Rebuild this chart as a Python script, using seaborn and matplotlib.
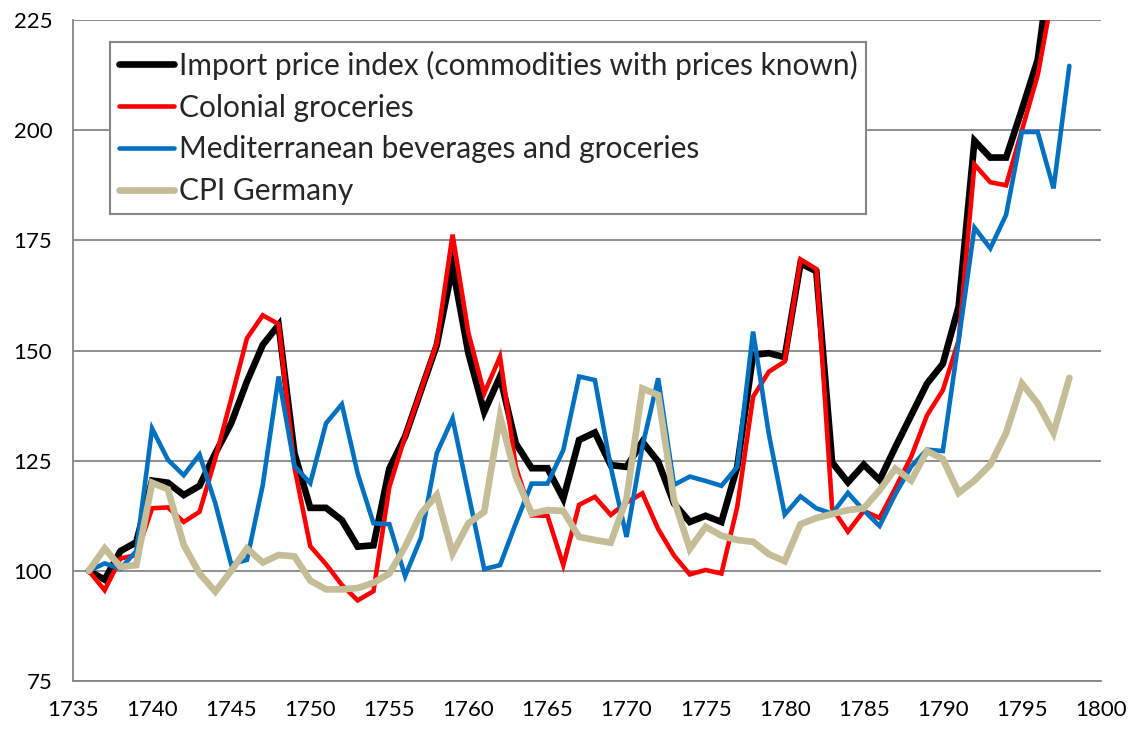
import matplotlib
matplotlib.use("Agg")
import matplotlib.pyplot as plt
import numpy as np
import seaborn as sns
from matplotlib.ticker import MultipleLocator

# data (index, 1736 = 100)
years = list(range(1736, 1799))

import_price = [
    100, 98, 104.5, 106.5, 120.5, 120, 117.2, 119.3, 126.7, 133.5,
    143, 151.3, 155.8, 126.7, 114.3, 114.3, 111.5, 105.5, 105.8, 123.2,
    130.5, 140.9, 151.2, 169, 149.4, 136.1, 144.1, 128.9, 123.3, 123.3,
    116.4, 129.7, 131.4, 124, 123.6, 129.3, 124.8, 115.3, 111.1, 112.5,
    111.1, 123.6, 149, 149.4, 148.5, 169.8, 168, 124.6, 120.1, 124.1,
    120.6, 128.1, 135.3, 142.5, 147, 160, 197.6, 193.8, 193.8, 204.7,
    216, 243, np.nan,
]
colonial = [
    100, 95.6, 102.8, 103.6, 114.2, 114.4, 111.1, 113.4, 125.5, 139,
    152.8, 158, 156, 123.5, 105.6, 101.5, 96.8, 93.3, 95.4, 119,
    130.5, 141, 151.7, 176.3, 154, 140.3, 148.6, 123.6, 112.6, 112.5,
    101.3, 115, 116.8, 112.7, 115.5, 117.6, 109.5, 103.5, 99.2, 100.2,
    99.4, 114.5, 139.5, 145.2, 147.5, 170.7, 168.5, 114.2, 108.9, 113.6,
    112, 118.8, 125.9, 135.3, 141, 152.3, 192.2, 188.2, 187.5, 200,
    212.5, 232, np.nan,
]
mediterranean = [
    100, 101.7, 100.5, 104.5, 132.3, 125.2, 121.7, 126.4, 115.3, 101.5,
    102.5, 119.5, 144.1, 123.8, 119.9, 133.5, 137.8, 122.1, 110.8, 110.6,
    98.8, 107.5, 126.7, 134.6, 117.5, 100.4, 101.3, 110.8, 119.8, 119.8,
    127.4, 144.1, 143.3, 123.6, 107.7, 128.2, 143.7, 119.5, 121.4, 120.4,
    119.3, 123.6, 154.3, 131, 112.8, 116.9, 114.2, 113, 117.7, 113.7,
    110.2, 117.4, 123.7, 127.5, 127.2, 152.3, 177.9, 173.2, 180.8, 199.6,
    199.6, 186.8, 214.6,
]
cpi_germany = [
    100, 105.1, 100.9, 101.3, 120, 118.5, 105.9, 99.4, 95.3, 100,
    105.1, 101.9, 103.6, 103.3, 97.8, 95.8, 95.8, 96.1, 97.3, 99.4,
    105.5, 113, 117.2, 104, 110.8, 113.4, 135, 121.4, 113, 113.8,
    113.6, 107.7, 107, 106.4, 116.4, 141.4, 139.9, 116.1, 105, 110,
    108, 107, 106.6, 103.8, 102.2, 110.6, 112, 112.9, 113.8, 114.2,
    118.3, 123.2, 120.5, 127.2, 125.4, 117.7, 120.5, 124.1, 131.3, 142.5,
    138, 131.3, 143.8,
]

series = [
    ("Import price index (commodities with prices known)", import_price, "#000000", 4.8),
    ("Colonial groceries", colonial, "#FF0000", 3.3),
    ("Mediterranean beverages and groceries", mediterranean, "#0070C0", 3.3),
    ("CPI Germany", cpi_germany, "#C4BD97", 4.8),
]

sns.set_style("white")
plt.rcParams["font.family"] = ["Lato", "DejaVu Sans"]

fig = plt.figure(figsize=(11.32, 7.29), dpi=100)
ax = fig.add_axes([0.0645, 0.0658, 0.9081, 0.9067])

for label, vals, color, lw in series:
    sns.lineplot(x=years, y=vals, color=color, linewidth=lw, label=label,
                 ax=ax, solid_joinstyle="miter")

ax.set_xlim(1735, 1800)
ax.set_ylim(75, 225)
ax.xaxis.set_major_locator(MultipleLocator(5))
ax.xaxis.set_minor_locator(MultipleLocator(1))
ax.yaxis.set_major_locator(MultipleLocator(25))
ax.yaxis.set_minor_locator(MultipleLocator(5))
ax.grid(axis="y", which="major", color="#868686", linewidth=1.3)
ax.set_axisbelow(True)

for side in ("top", "right"):
    ax.spines[side].set_visible(False)
for side in ("left", "bottom"):
    ax.spines[side].set_color("#868686")
    ax.spines[side].set_linewidth(1.3)

ax.tick_params(which="both", direction="out", length=6, width=1.1,
               color="#868686", labelsize=16, labelcolor="black")
ax.tick_params(axis="y", pad=9)
ax.tick_params(axis="x", pad=8)

leg = ax.legend(loc="upper left", bbox_to_anchor=(0.036, 0.967),
                borderaxespad=0, fontsize=21.5, frameon=True, fancybox=False,
                framealpha=1, edgecolor="#868686", handlelength=1.85,
                handletextpad=0.15, labelspacing=0.46, borderpad=0.3)
leg.get_frame().set_linewidth(1.5)

fig.savefig("out.png", dpi=100)
